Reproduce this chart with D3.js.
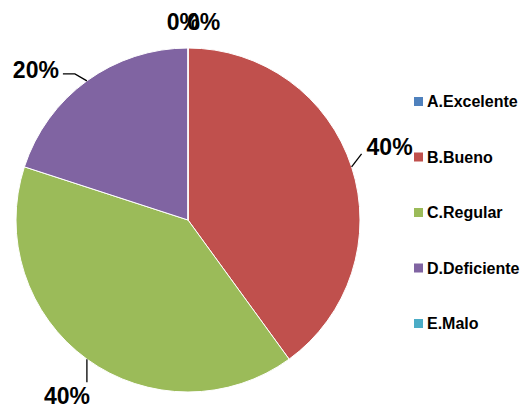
<!DOCTYPE html>
<html><head><meta charset="utf-8">
<script src="https://cdn.jsdelivr.net/npm/d3@7"></script>
<style>body{margin:0;background:#fff}svg{display:block}</style>
</head><body>
<svg id="c" width="526" height="410"></svg>
<script>
const categories = ["A.Excelente","B.Bueno","C.Regular","D.Deficiente","E.Malo"];
const values = [0, 40, 40, 20, 0];
const labels = ["0%","40%","40%","20%","0%"];
const colors = ["#4F81BD","#C0504D","#9BBB59","#8064A2","#4BACC6"];

const svg = d3.select("#c");
const cx = 188, cy = 220, R = 172;
const g = svg.append("g").attr("transform", `translate(${cx},${cy})`);
const pie = d3.pie().sort(null).value(d => d)(values);
const arc = d3.arc().innerRadius(0).outerRadius(R);

g.selectAll("path.s").data(pie).join("path")
  .attr("d", arc)
  .attr("fill", (d,i) => colors[i])
  .attr("stroke", "#fff").attr("stroke-width", 1);

// label layout (positions relative to arc anchor) – layout only
const layout = [
  {leader:null, tx:12, ty:-18, anchor:"end"},
  {leader:[[10,-13]], tx:15, ty:-12, anchor:"start"},
  {leader:[[0,23]], tx:-20, ty:45, anchor:"middle"},
  {leader:[[-12,-7],[-24,-7]], tx:-28, ty:-3, anchor:"end"},
  {leader:null, tx:-1, ty:-18, anchor:"start"}
];
pie.forEach((d,i) => {
  const a = (d.startAngle + d.endAngle)/2;
  const px = R*Math.sin(a), py = -R*Math.cos(a);
  const L = layout[i];
  if (L.leader) {
    const pts = [[px,py]].concat(L.leader.map(p => [px+p[0], py+p[1]]));
    g.append("path").attr("d", d3.line()(pts)).attr("fill","none")
      .attr("stroke","#000").attr("stroke-width",1.3);
  }
  g.append("text").attr("x", px+L.tx).attr("y", py+L.ty)
    .attr("text-anchor", L.anchor)
    .attr("font-family","Liberation Sans, Arial, sans-serif")
    .attr("font-weight","bold").attr("font-size",23)
    .text(labels[i]);
});

const ly = d3.scalePoint().domain(categories).range([107, 329]);
const leg = svg.append("g");
categories.forEach((c,i) => {
  leg.append("rect").attr("x",414).attr("y",ly(c)-10).attr("width",9).attr("height",9)
    .attr("fill",colors[i]);
  leg.append("text").attr("x",427).attr("y",ly(c))
    .attr("font-family","Liberation Sans, Arial, sans-serif")
    .attr("font-weight","bold").attr("font-size",16).text(c);
});
</script>
</body></html>
